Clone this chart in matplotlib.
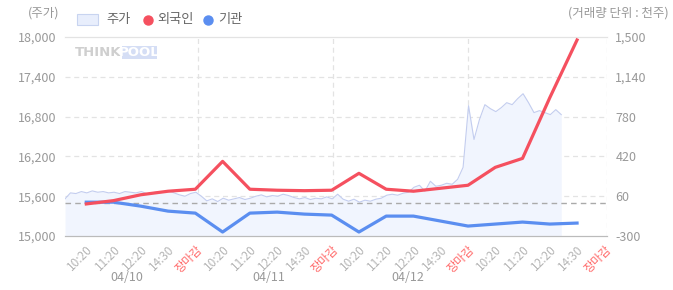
import matplotlib
matplotlib.use("Agg")
import matplotlib.pyplot as plt
import numpy as np
from matplotlib.lines import Line2D
from matplotlib.patches import Rectangle

plt.rcParams["font.family"] = ["Noto Sans CJK KR", "DejaVu Sans"]

# x tick labels (4 trading days, 5 slots each)
slot_labels = ["10:20", "11:20", "12:20", "14:30", "장마감"] * 4
day_labels = ["04/10", "04/11", "04/12"]

# net buying (thousand shares), one value per slot
foreign = [-10, 20, 73, 105, 123, 375, 123, 114, 110, 114,
           267, 123, 105, 132, 159, 321, 402, 951, 1473]
institution = [6, 6, -30, -75, -93, -264, -93, -84, -102, -111,
               -264, -120, -120, -165, -210, -192, -174, -192, -183]

# intraday price samples (every 0.2 slot)
price = [
    15560, 15650, 15640, 15670, 15650, 15680, 15660, 15670, 15650, 15660,
    15640, 15670, 15660, 15650, 15670, 15640, 15650, 15670, 15660, 15680,
    15650, 15620, 15600, 15640, 15660,
    15600, 15530, 15560, 15520, 15570, 15540, 15560, 15580, 15550, 15570,
    15600, 15620, 15590, 15610, 15600, 15630, 15610, 15580, 15560, 15580,
    15550, 15570, 15560, 15590, 15560,
    15630, 15555, 15525, 15555, 15510, 15540, 15525, 15555, 15570, 15615,
    15630, 15615, 15645, 15660, 15735, 15765, 15675, 15825, 15750, 15765,
    15795, 15780, 15855, 16035, 16965,
    16455, 16755, 16980, 16920, 16875, 16935, 17010, 16980, 17070, 17145,
    17010, 16860, 16890, 16860, 16830, 16905, 16830,
]

RED = "#f5505f"
BLUE = "#5b8ef0"
GRAY = "#999999"

fig = plt.figure(figsize=(6.73, 2.90), dpi=100)
ax = fig.add_axes([0.0966, 0.1862, 0.8054, 0.6862])
ax2 = ax.twinx()

x_left, x_right = -0.78, 19.1
t = x_left + 0.2 * np.arange(len(price))
ax.fill_between(t, 15000, price, color="#f1f5fe", lw=0, zorder=1)
ax.plot(t, price, color="#c3cdef", lw=0.8, zorder=2)
ax.set_ylim(15000, 18000)
ax.set_yticks(np.arange(15000, 18001, 600))
ax.set_yticklabels([f"{v:,}" for v in range(15000, 18001, 600)])
ax.set_xlim(x_left, x_right)

slots = np.arange(len(foreign))
ax2.axhline(0, color="#aaaaaa", lw=1, ls=(0, (4, 3)), zorder=3)
ax2.plot(slots, institution, color=BLUE, lw=2.3, zorder=4)
ax2.plot(slots, foreign, color=RED, lw=2.3, zorder=5)
ax2.set_ylim(-300, 1500)
ax2.set_yticks(np.arange(-300, 1501, 360))
ax2.set_yticklabels([f"{v:,}" for v in range(-300, 1501, 360)])

for v in range(15600, 18000, 600):
    ax.axhline(v, color="#e3e3e3", lw=0.9, ls=(0, (4, 3)), zorder=0)
for s in [4.1, 9.05, 14.0, x_right]:
    ax.axvline(s, color="#e3e3e3", lw=0.9, ls=(0, (4, 3)), zorder=0)

for a in (ax, ax2):
    for side in ("left", "right"):
        a.spines[side].set_visible(False)
    a.spines["top"].set_color("#e3e3e3")
    a.spines["bottom"].set_color("#bbbbbb")
    a.tick_params(length=0, labelsize=9, colors=GRAY, pad=6)

ax.set_xticks(np.arange(len(slot_labels)))
ax.set_xticklabels(slot_labels, rotation=45, ha="right", va="top",
                   rotation_mode="anchor", fontsize=8.5)
ax.tick_params(axis="x", pad=5)
for lab in ax.get_xticklabels():
    if lab.get_text() == "장마감":
        lab.set_color("#ff6b6b")
    else:
        lab.set_color("#b5b5b5")

for pos, d in zip([1.5, 6.7, 11.8], day_labels):
    ax.text(pos, -0.21, d, transform=ax.get_xaxis_transform(), ha="center",
            va="center", fontsize=9, color=GRAY)

fig.text(0.042, 0.955, "(주가)", fontsize=9, color=GRAY, ha="left", va="center")
fig.text(0.993, 0.955, "(거래량 단위 : 천주)", fontsize=9, color=GRAY,
         ha="right", va="center")

# watermark
fig.add_artist(Rectangle((122 / 673, 1 - 59 / 290), 35 / 673, 13 / 290,
                         transform=fig.transFigure, fc="#d5def5", ec="none"))
fig.text(75 / 673, 1 - 52.5 / 290, "THINK", fontsize=9.5, fontweight="bold",
         color="#cfcfcf", family="DejaVu Sans", va="center", ha="left")
fig.text(139.5 / 673, 1 - 52.5 / 290, "POOL", fontsize=9.5, fontweight="bold",
         color="white", family="DejaVu Sans", va="center", ha="center")

# legend
leg_y = 1 - 19.5 / 290
fig.add_artist(Rectangle((77 / 673, 1 - 25 / 290), 21 / 673, 11 / 290,
                         transform=fig.transFigure, fc="#e8eefc",
                         ec="#c8d4f0", lw=0.8))
fig.text(106 / 673, leg_y, "주가", fontsize=9.5, color="#666666", va="center")
fig.add_artist(Line2D([148 / 673], [leg_y], marker="o", ls="", color=RED,
                      markersize=6.5, transform=fig.transFigure))
fig.text(157 / 673, leg_y, "외국인", fontsize=9.5, color="#666666", va="center")
fig.add_artist(Line2D([208 / 673], [leg_y], marker="o", ls="", color=BLUE,
                      markersize=6.5, transform=fig.transFigure))
fig.text(218 / 673, leg_y, "기관", fontsize=9.5, color="#666666", va="center")

fig.savefig("out.png", dpi=100)
